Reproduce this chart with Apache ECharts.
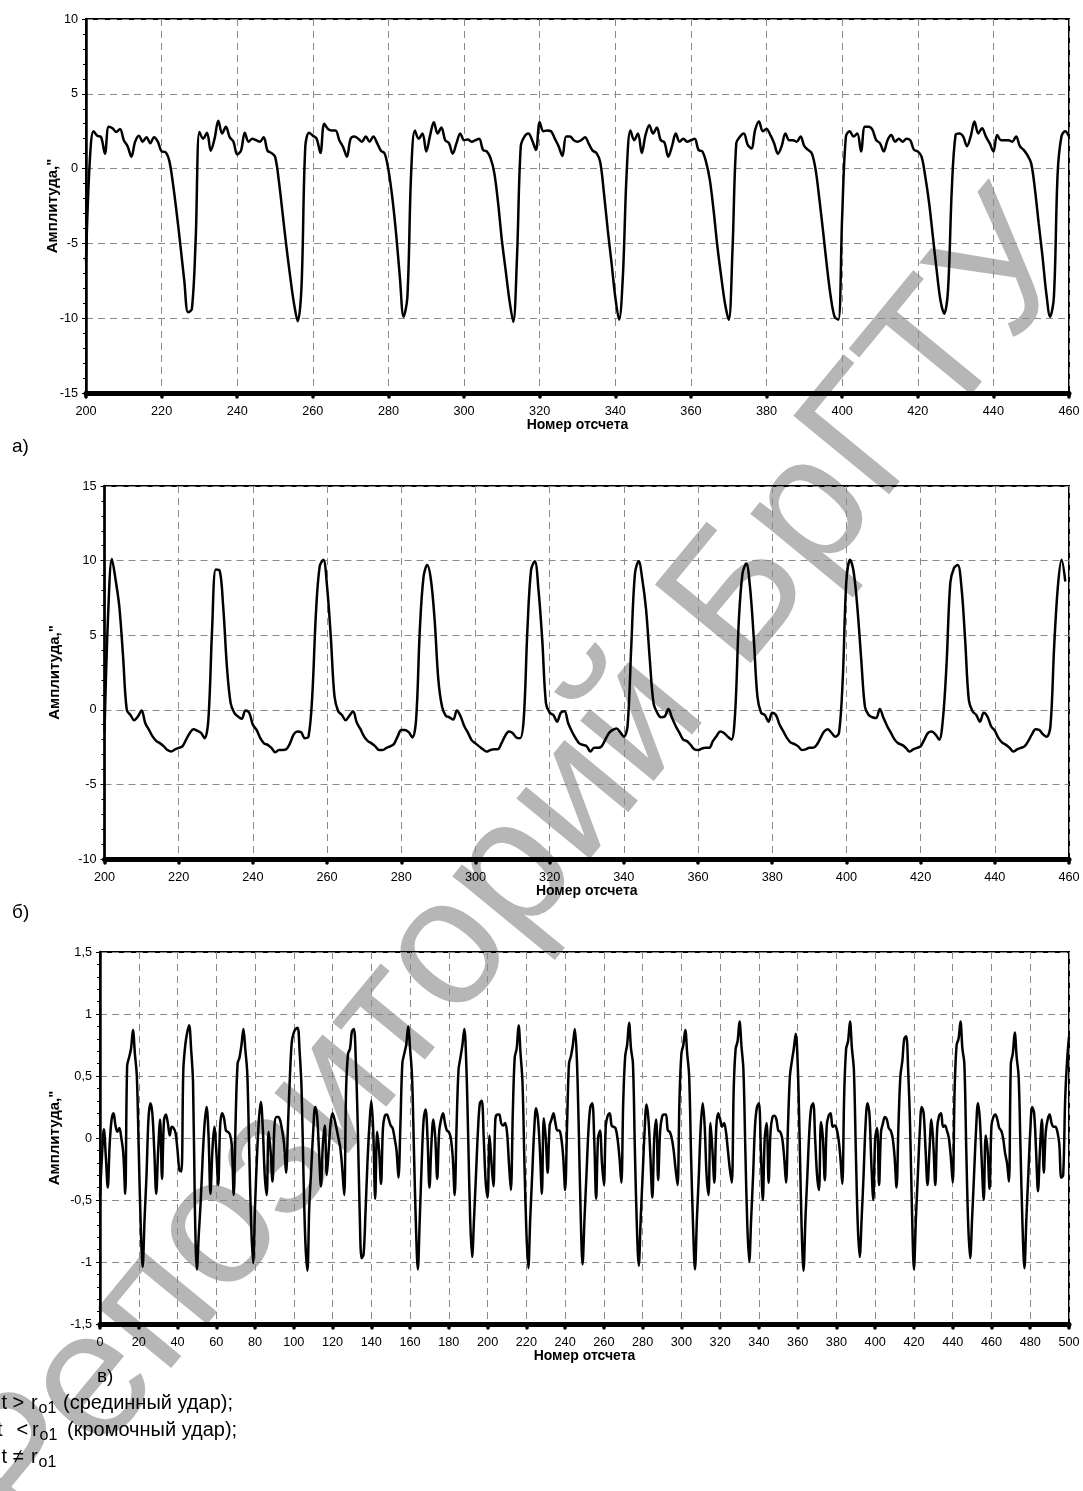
<!DOCTYPE html>
<html>
<head>
<meta charset="utf-8">
<script src="https://cdn.jsdelivr.net/npm/echarts@6/dist/echarts.min.js"></script>
<style>
  html, body { margin: 0; padding: 0; background: #fff; }
  #chart { width: 1083px; height: 1491px; }
</style>
</head>
<body>
<div id="chart"></div>
<script>
// а) амплитуда, отсчеты 200..460
const startA = 200
const ampA = [
  -6.2, 0.5, 2.5, 2.2, 2.1, 1.0, 2.8, 2.7, 2.45, 2.65,
  1.9, 1.5, 0.8, 1.8, 2.2, 1.8, 2.1, 1.7, 2.1, 1.8,
  1.15, 1.1, 0.55, -1.0, -3.0, -5.2, -7.5, -9.6, -9.4, -4.8,
  2.45, 2.0, 2.4, 1.2, 2.0, 3.2, 2.35, 2.8, 2.1, 1.8,
  0.95, 1.2, 2.4, 1.8, 2.0, 1.9, 1.8, 2.1, 1.2, 1.05,
  0.8, -0.8, -3.0, -5.2, -7.2, -9.0, -10.2, -7.9, 1.45, 2.4,
  2.2, 2.0, 1.05, 3.0, 2.65, 2.55, 2.55, 1.9, 1.45, 0.8,
  2.0, 2.15, 2.0, 1.8, 2.15, 1.8, 2.15, 1.7, 1.2, 1.0,
  -0.1, -1.9, -4.3, -7.2, -9.9, -8.6, -0.3, 2.55, 2.0, 2.35,
  1.15, 2.2, 3.1, 2.35, 2.75, 1.9, 1.7, 1.0, 1.7, 2.35,
  1.9, 1.95, 1.8, 1.9, 2.0, 1.25, 1.15, 0.7, -0.3, -2.3,
  -4.8, -6.8, -8.8, -10.25, -5.9, 1.5, 2.15, 2.35, 1.9, 1.25,
  3.1, 2.5, 2.55, 2.5, 2.0, 1.5, 0.85, 2.15, 2.15, 1.9,
  1.8, 1.9, 2.1, 1.65, 1.2, 1.05, 0.45, -1.65, -4.1, -6.3,
  -8.6, -10.1, -7.2, -0.3, 2.55, 1.9, 2.35, 1.05, 2.25, 2.9,
  2.35, 2.75, 1.9, 1.75, 0.8, 1.5, 2.35, 1.8, 2.0, 1.8,
  1.9, 2.0, 1.25, 1.15, 0.45, -0.75, -2.8, -5.2, -7.2, -9.0,
  -10.1, -5.4, 1.7, 2.15, 2.35, 1.6, 1.35, 2.6, 3.15, 2.5,
  2.65, 2.25, 1.7, 1.0, 1.5, 2.35, 1.9, 1.9, 1.8, 2.15,
  1.5, 1.25, 1.0, -0.1, -2.1, -4.3, -6.6, -8.6, -9.9, -10.1,
  -3.2, 2.15, 2.5, 2.15, 2.35, 1.15, 2.8, 2.8, 2.6, 1.9,
  1.7, 1.15, 1.9, 2.25, 1.8, 2.0, 1.8, 2.0, 1.9, 1.25,
  1.15, 0.8, -0.55, -2.3, -4.55, -6.8, -8.8, -9.7, -8.1, -1.4,
  2.25, 2.35, 2.15, 1.5, 2.15, 3.15, 2.35, 2.7, 2.15, 1.7,
  1.15, 2.25, 1.9, 1.9, 1.9, 1.8, 2.15, 1.5, 1.25, 0.9,
  0.35, -1.4, -3.7, -5.9, -8.35, -9.9, -8.6, -0.3, 2.15, 2.5,
  2.15
]

// б) отсчеты 200..459
const startB = 200
const ampB = [
  -1.5, 6.5, 10.1, 8.7, 6.9, 3.6, 0.0, -0.35, -0.7, -0.45,
  -0.05, -0.9, -1.35, -1.8, -2.1, -2.25, -2.45, -2.7, -2.8, -2.65,
  -2.55, -2.45, -2.0, -1.55, -1.3, -1.4, -1.55, -1.9, -0.65, 5.35,
  9.4, 9.35, 6.9, 2.9, 0.45, -0.2, -0.45, -0.6, -0.05, -0.2,
  -1.0, -1.35, -1.9, -2.25, -2.35, -2.55, -2.85, -2.7, -2.7, -2.65,
  -2.25, -1.65, -1.45, -1.5, -1.9, -1.8, 0.9, 6.5, 9.6, 10.05,
  8.25, 4.9, 0.9, -0.1, -0.35, -0.7, -0.4, -0.1, -0.85, -1.3,
  -1.8, -2.1, -2.25, -2.45, -2.7, -2.7, -2.55, -2.45, -2.3, -1.8,
  -1.35, -1.35, -1.5, -1.85, -0.65, 5.35, 8.9, 9.7, 8.7, 6.0,
  2.0, 0.2, -0.4, -0.5, -0.65, -0.05, -0.45, -1.1, -1.55, -2.05,
  -2.25, -2.45, -2.65, -2.8, -2.7, -2.65, -2.65, -2.25, -1.75, -1.45,
  -1.55, -1.85, -1.9, -0.65, 5.35, 9.4, 9.95, 8.0, 4.7, 0.45,
  -0.2, -0.35, -0.8, -0.2, -0.1, -0.9, -1.45, -1.9, -2.25, -2.35,
  -2.45, -2.8, -2.55, -2.55, -2.45, -2.0, -1.55, -1.35, -1.25, -1.5,
  -1.8, -1.1, 4.25, 9.15, 9.95, 8.7, 6.7, 3.35, 0.45, -0.2,
  -0.5, -0.45, 0.05, -0.55, -1.1, -1.55, -2.0, -2.1, -2.35, -2.65,
  -2.7, -2.6, -2.55, -2.55, -2.1, -1.75, -1.45, -1.55, -1.8, -2.0,
  -0.2, 6.0, 9.15, 9.8, 8.25, 4.9, 0.9, -0.2, -0.35, -0.8,
  -0.2, -0.35, -1.0, -1.45, -1.9, -2.2, -2.3, -2.45, -2.7, -2.65,
  -2.55, -2.55, -2.35, -1.9, -1.45, -1.3, -1.55, -1.8, -1.55, 2.0,
  8.7, 10.05, 9.15, 6.7, 3.35, 0.2, -0.35, -0.5, -0.55, 0.05,
  -0.55, -1.1, -1.55, -2.0, -2.25, -2.35, -2.55, -2.8, -2.65, -2.55,
  -2.45, -2.0, -1.55, -1.45, -1.65, -2.0, -0.65, 3.1, 8.5, 9.5,
  9.7, 8.25, 4.7, 0.65, -0.1, -0.35, -0.8, -0.2, -0.45, -1.1,
  -1.4, -1.9, -2.2, -2.35, -2.55, -2.8, -2.65, -2.55, -2.45, -2.1,
  -1.65, -1.3, -1.35, -1.65, -1.8, -1.1, 4.25, 8.25, 10.05, 8.6
]

// в) отсчеты 0..500
const startC = 0
const ampC = [
  -0.47, -0.15, 0.07, -0.15, -0.4, -0.05, 0.15, 0.2, 0.1, 0.05,
  0.08, 0.0, -0.12, -0.45, 0.58, 0.65, 0.72, 0.87, 0.68, 0.5,
  -0.1, -0.7, -1.04, -0.65, -0.3, 0.15, 0.28, 0.2, -0.1, -0.45,
  -0.1, 0.15, -0.33, 0.14, 0.19, 0.12, 0.02, 0.09, 0.08, 0.04,
  -0.1, -0.26, -0.27, 0.55, 0.75, 0.85, 0.91, 0.72, 0.45, -0.6,
  -1.06, -0.77, -0.5, -0.15, 0.12, 0.25, 0.02, -0.45, -0.1, 0.09,
  -0.1, -0.38, 0.1, 0.2, 0.16, 0.06, 0.05, 0.03, -0.06, -0.46,
  0.15, 0.6, 0.65, 0.75, 0.88, 0.71, 0.52, -0.1, -0.7, -1.01,
  -0.55, -0.15, 0.15, 0.29, 0.08, -0.3, -0.46, 0.05, -0.1, -0.35,
  0.09, 0.17, 0.17, 0.14, 0.06, -0.05, -0.28, 0.1, 0.5, 0.78,
  0.85, 0.88, 0.89, 0.7, 0.4, -0.3, -0.85, -1.07, -0.55, -0.25,
  0.05, 0.25, 0.18, -0.1, -0.39, -0.05, 0.1, -0.3, -0.1, 0.12,
  0.2, 0.15, 0.08, 0.0, -0.08, -0.25, -0.46, 0.4, 0.68, 0.72,
  0.86, 0.88, 0.62, 0.1, -0.6, -0.97, -0.94, -0.6, -0.2, 0.1,
  0.3, 0.05, -0.49, 0.05, -0.1, -0.37, 0.08, 0.18, 0.19, 0.15,
  0.1, 0.08, 0.0, -0.1, -0.32, 0.1, 0.6, 0.68, 0.75, 0.9,
  0.72, 0.5, -0.1, -0.7, -1.06, -0.65, -0.2, 0.15, 0.23, 0.0,
  -0.4, -0.05, 0.15, 0.0, -0.33, 0.05, 0.15, 0.2, 0.12, 0.06,
  0.05, 0.0, -0.15, -0.46, 0.1, 0.55, 0.65, 0.75, 0.88, 0.6,
  0.0, -0.65, -0.96, -0.65, -0.3, 0.05, 0.28, 0.3, 0.0, -0.35,
  -0.48, 0.02, -0.2, -0.39, 0.15, 0.19, 0.19, 0.12, 0.1, 0.12,
  0.05, -0.2, -0.42, 0.2, 0.65, 0.72, 0.91, 0.68, 0.45, -0.2,
  -0.75, -1.05, -0.65, -0.3, 0.05, 0.24, 0.15, -0.1, -0.45, 0.16,
  0.0, -0.28, 0.1, 0.15, 0.2, 0.12, 0.06, 0.06, 0.0, -0.15,
  -0.42, 0.1, 0.6, 0.66, 0.75, 0.88, 0.66, 0.1, -0.6, -1.02,
  -0.65, -0.3, 0.05, 0.25, 0.28, 0.0, -0.49, 0.0, 0.06, -0.2,
  -0.38, 0.1, 0.18, 0.2, 0.1, 0.09, 0.08, 0.0, -0.15, -0.36,
  0.3, 0.66, 0.75, 0.93, 0.72, 0.6, -0.1, -0.7, -1.03, -0.65,
  -0.3, 0.05, 0.27, 0.15, -0.15, -0.48, 0.0, 0.15, -0.34, 0.05,
  0.17, 0.19, 0.19, 0.06, 0.05, 0.0, -0.1, -0.25, -0.38, 0.3,
  0.68, 0.75, 0.87, 0.68, 0.5, -0.15, -0.7, -1.06, -0.65, -0.3,
  0.1, 0.28, 0.1, -0.3, -0.46, 0.12, -0.1, -0.36, 0.09, 0.2,
  0.15, 0.09, 0.12, 0.05, -0.1, -0.25, -0.36, 0.4, 0.72, 0.78,
  0.94, 0.74, 0.55, -0.1, -0.7, -1.0, -0.65, -0.3, 0.1, 0.25,
  0.28, -0.1, -0.5, 0.0, 0.12, -0.36, 0.05, 0.17, 0.18, 0.15,
  0.06, 0.05, 0.0, -0.15, -0.36, 0.1, 0.5, 0.62, 0.72, 0.84,
  0.6, 0.0, -0.7, -1.07, -0.65, -0.3, 0.05, 0.25, 0.28, 0.0,
  -0.3, -0.42, 0.13, 0.0, -0.34, 0.1, 0.18, 0.2, 0.09, 0.1,
  0.08, 0.0, -0.15, -0.37, 0.35, 0.72, 0.78, 0.94, 0.72, 0.55,
  -0.1, -0.7, -0.96, -0.65, -0.3, 0.1, 0.28, 0.2, -0.2, -0.5,
  0.0, 0.08, -0.38, 0.05, 0.12, 0.17, 0.15, 0.08, 0.06, 0.0,
  -0.15, -0.4, 0.1, 0.5, 0.62, 0.8, 0.82, 0.55, 0.1, -0.6,
  -1.06, -0.65, -0.3, 0.05, 0.25, 0.2, -0.1, -0.38, -0.1, 0.15,
  -0.05, -0.38, 0.08, 0.18, 0.2, 0.09, 0.1, 0.06, 0.0, -0.15,
  -0.36, 0.4, 0.75, 0.8, 0.94, 0.72, 0.6, -0.1, -0.7, -0.97,
  -0.65, -0.3, 0.05, 0.28, 0.15, -0.2, -0.5, 0.02, -0.1, -0.41,
  0.1, 0.17, 0.19, 0.15, 0.08, 0.06, 0.0, -0.12, -0.2, -0.35,
  0.6, 0.68, 0.85, 0.65, 0.5, -0.1, -0.7, -1.05, -0.65, -0.3,
  0.05, 0.25, 0.2, -0.1, -0.43, -0.1, 0.15, -0.28, 0.05, 0.15,
  0.19, 0.12, 0.09, 0.09, 0.05, -0.05, -0.32, -0.3, 0.3, 0.62,
  0.82
]

// оси
const xRangeA = [200, 460], yRangeA = [-15, 10], yStepA = 5
const xRangeB = [200, 460], yRangeB = [-10, 15], yStepB = 5
const xRangeC = [0, 500], yRangeC = [-1.5, 1.5], yStepC = 0.5
const xStep = 20

const xTitle = 'Номер отсчета'
const yTitle = 'Амплитуда,"'
const panelLabels = ['а)', 'б)', 'в)']
const FONT = '"Liberation Sans", Arial, sans-serif'

function toPairs(start, vals) {
  return vals.map((v, i) => [start + i, v])
}

function xAxisOf(idx, range) {
  return {
    gridIndex: idx, type: 'value', min: range[0], max: range[1], interval: xStep,
    name: xTitle, nameLocation: 'middle', nameGap: 25, nameMoveOverlap: false,
    nameTextStyle: {fontFamily: FONT, fontWeight: 'bold', fontSize: 14, color: '#000'},
    axisLine: {onZero: false, lineStyle: {color: '#000', width: 5}},
    axisTick: {show: true, length: 4, lineStyle: {color: '#000', width: 3.5, cap: 'round'}},
    axisLabel: {fontFamily: FONT, fontSize: 12.7, color: '#000', margin: 12},
    splitLine: {show: true, lineStyle: {color: '#8a8a8a', width: 1, type: [7, 5]}}
  }
}

function yAxisOf(idx, range, step, gap, fmt) {
  return {
    gridIndex: idx, type: 'value', min: range[0], max: range[1], interval: step,
    name: yTitle, nameLocation: 'middle', nameGap: gap, nameMoveOverlap: false,
    nameTextStyle: {fontFamily: FONT, fontWeight: 'bold', fontSize: 15, color: '#000'},
    axisLine: {onZero: false, lineStyle: {color: '#000', width: 2.5}},
    axisTick: {show: true, length: 4, lineStyle: {color: '#000', width: 1}},
    minorTick: {show: true, splitNumber: 5, length: 3, lineStyle: {color: '#000', width: 1}},
    axisLabel: {fontFamily: FONT, fontSize: 12.7, color: '#000', margin: 8, formatter: fmt},
    splitLine: {show: true, lineStyle: {color: '#8a8a8a', width: 1, type: [7, 5]}}
  }
}

function lineOf(idx, data) {
  return {
    type: 'line', xAxisIndex: idx, yAxisIndex: idx, data: data,
    showSymbol: false, smooth: 0.35, silent: true, z: 5,
    lineStyle: {color: '#000', width: 2.5}
  }
}

function txt(x, y, s, size, extra) {
  return {
    type: 'text', x: x, y: y, z: 20, silent: true,
    style: Object.assign({text: s, fill: '#000', font: size + 'px ' + FONT, verticalAlign: 'middle'}, extra || {})
  }
}

const comma = v => String(v).replace('.', ',')

let myChart = echarts.init(document.getElementById('chart'), null, {renderer: 'canvas'})
myChart.setOption({
  animation: false,
  backgroundColor: '#fff',
  grid: [
    {left: 86, top: 19, width: 983, height: 374, show: true, borderColor: '#000', borderWidth: 2},
    {left: 104.5, top: 486, width: 964.5, height: 373, show: true, borderColor: '#000', borderWidth: 2},
    {left: 100, top: 952, width: 969, height: 372, show: true, borderColor: '#000', borderWidth: 2}
  ],
  xAxis: [xAxisOf(0, xRangeA), xAxisOf(1, xRangeB), xAxisOf(2, xRangeC)],
  yAxis: [
    yAxisOf(0, yRangeA, yStepA, 26),
    yAxisOf(1, yRangeB, yStepB, 42),
    yAxisOf(2, yRangeC, yStepC, 38, comma)
  ],
  series: [
    lineOf(0, toPairs(startA, ampA)),
    lineOf(1, toPairs(startB, ampB)),
    lineOf(2, toPairs(startC, ampC))
  ],
  graphic: [
    // водяной знак
    {
      type: 'text', x: 518, y: 868, rotation: 0.883, z: -1, silent: true,
      style: {text: 'Репозиторий БрГТУ', fill: '#b6b6b6', font: '180px ' + FONT, align: 'center', verticalAlign: 'middle'}
    },
    txt(12, 447, panelLabels[0], 19),
    txt(12, 913, panelLabels[1], 19),
    txt(97, 1377, panelLabels[2], 19),
    // подписи внизу
    txt(1.5, 1403, 't >', 20),
    txt(31, 1403, 'r', 20, {fontStyle: 'italic'}),
    txt(38.5, 1409, 'о1', 16),
    txt(63, 1403, '(срединный удар);', 20),
    txt(-3, 1430, 't', 20),
    txt(16.5, 1430, '<', 20),
    txt(32, 1430, 'r', 20, {fontStyle: 'italic'}),
    txt(39.5, 1436, 'о1', 16),
    txt(67, 1430, '(кромочный удар);', 20),
    txt(1.5, 1457, 't ≠', 20),
    txt(31, 1457, 'r', 20, {fontStyle: 'italic'}),
    txt(38.5, 1463, 'о1', 16)
  ]
})
</script>
</body>
</html>
